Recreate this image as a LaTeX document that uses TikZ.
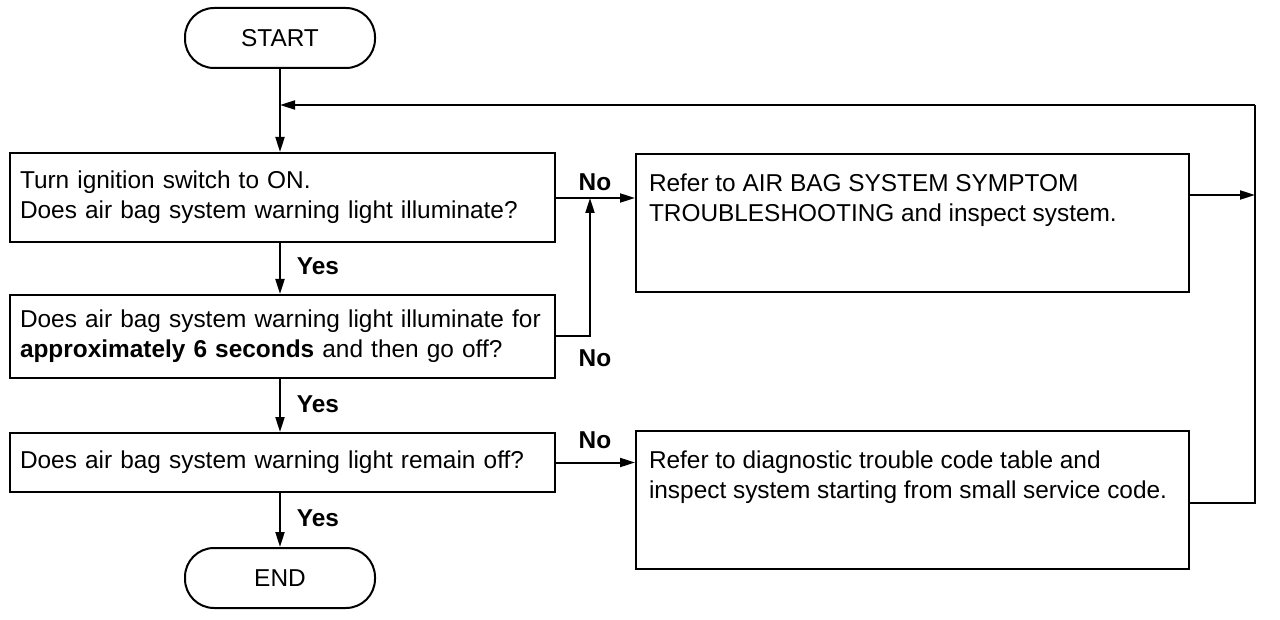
\documentclass[tikz,border=0pt]{standalone}
\usepackage{fontspec}
\setmainfont{Liberation Sans}
\usetikzlibrary{arrows.meta}
\begin{document}
\begin{tikzpicture}[x=1pt,y=-1pt,
  every node/.style={font=\fontsize{24.4}{30}\selectfont},
  term/.style={draw,line width=2pt,rounded corners=29pt,minimum width=190pt,minimum height=60pt,inner sep=0pt},
  lbox/.style={draw,line width=2pt,minimum width=545pt,text width=525pt,inner xsep=10pt,align=left},
  rbox/.style={draw,line width=2pt,inner xsep=13pt,inner ysep=20pt,anchor=north west},
  lab/.style={font=\fontsize{24.4}{30}\selectfont\bfseries},
  arr/.style={line width=2pt,-{Triangle[length=15pt,width=9pt]}},
  ln/.style={line width=2pt}]
\useasboundingbox (0,0) rectangle (1280,620);
\node[term] (start) at (280,38) {START};
\node[lbox,minimum height=89pt] (b1) at (282.5,197.5) {Turn ignition switch to ON.\\Does air bag system warning light illuminate?};
\node[lbox,minimum height=83pt] (b2) at (282.5,336.5) {Does air bag system warning light illuminate for\\\textbf{approximately 6 seconds} and then go off?};
\node[lbox,minimum height=59pt] (b3) at (282.5,462.5) {Does air bag system warning light remain off?};
\node[term] (end) at (280,578) {END};
\node[rbox] (r1) at (635,153) {\parbox[t][98pt][t]{527pt}{Refer to AIR BAG SYSTEM SYMPTOM\\TROUBLESHOOTING and inspect system.}};
\node[rbox] (r2) at (635,430) {\parbox[t][98pt][t]{527pt}{Refer to diagnostic trouble code table and\\inspect system starting from small service code.}};
\coordinate (j) at (280,105);
\coordinate (k) at (1255,105);
\coordinate (m1) at (590,198);
\coordinate (rr1) at (1255,195);
\coordinate (rr2) at (1188,503);
\draw[arr] (start.south) -- (start.south |- b1.north);
\draw[arr] (b1.south -| start) -- (b2.north -| start);
\draw[arr] (b2.south -| start) -- (b3.north -| start);
\draw[arr] (b3.south -| start) -- (end.north);
\draw[arr] (b1.east |- m1) -- (r1.west |- m1);
\draw[arr] (b2.east) -| (m1);
\draw[arr] (b3.east) -- (b3.east -| r2.west);
\draw[arr] (rr1 -| r1.east) -- (rr1);
\draw[ln] (rr2) -| (k);
\draw[arr] (k) -- (j);
\node[lab] (no1) at (595,182) {No};
\node[lab] (no2) at (595,358) {No};
\node[lab] (no3) at (595,440) {No};
\node[lab] (y1) at (318,266) {Yes};
\node[lab] (y2) at (318,404) {Yes};
\node[lab] (y3) at (318,518) {Yes};
\end{tikzpicture}
\end{document}
